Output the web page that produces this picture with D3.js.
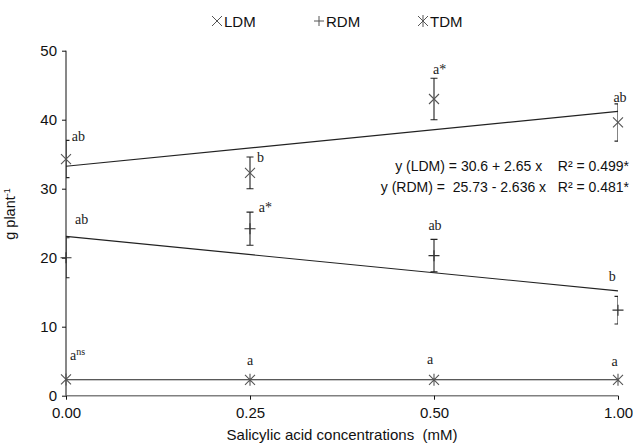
<!DOCTYPE html>
<html><head><meta charset="utf-8">
<script src="https://cdn.jsdelivr.net/npm/d3@7"></script>
<style>
html,body{margin:0;padding:0;background:#fff;}
text{white-space:pre;}
</style></head>
<body>
<script>
// ---- data ----
const categories = ["0.00", "0.25", "0.50", "1.00"];
const yTicks = [0, 10, 20, 30, 40, 50];
const seriesNames = ["LDM", "RDM", "TDM"];
const ldmValues = [34.3, 32.3, 43.0, 39.6];
const ldmErrors = [2.7, 2.3, 3.0, 2.7];
const rdmValues = [20.0, 24.2, 20.3, 12.4];
const rdmErrors = [2.9, 2.4, 2.35, 2.0];
const tdmValues = [2.35, 2.3, 2.3, 2.3];
const ldmLetters = ["ab", "b", "a*", "ab"];
const rdmLetters = ["ab", "a*", "ab", "b"];
const tdmLetters = ["a", "a", "a", "a"];
const ldmFit = [30.6, 2.65];     // intercept, slope (x = 1..4)
const rdmFit = [25.73, -2.636];
const equations = ["y (LDM) = 30.6 + 2.65 x    R\u00B2 = 0.499*",
                   "y (RDM) =  25.73 - 2.636 x   R\u00B2 = 0.481*"];
const xTitle = "Salicylic acid concentrations  (mM)";

// ---- layout (not data) ----
const W = 633, H = 445;
const ldmLabelPos = [[5.7,1,"start"],[7,5,"start"],[-1,-4,"start"],[2,-2,"middle"]];
const rdmLabelPos = [[9,-14,"start"],[8.7,0,"start"],[1,-9,"middle"],[-5.7,-15.6,"middle"]];
const tdmLabelPos = [[4,-19,"start"],[0,-14.5,"middle"],[-4,-15.5,"middle"],[-3.5,-14,"middle"]];

const svg = d3.select("body").append("svg").attr("width", W).attr("height", H);
const x = d3.scalePoint().domain(categories).range([66, 618]);
const y = d3.scaleLinear().domain([0, 50]).range([395.7, 50.7]);

svg.append("defs").append("clipPath").attr("id","plot")
  .append("rect").attr("x",66).attr("y",40).attr("width",552).attr("height",356);

const markerCol = "#555", lineCol = "#222";

// axes
const yAxis = svg.append("g").attr("transform","translate(66,0)")
  .call(d3.axisLeft(y).tickValues(yTicks).tickSize(4).tickPadding(5).tickFormat(d3.format("d")));
yAxis.select(".domain").attr("stroke","#111").attr("d","M0,"+y(50)+"V"+y(0));
yAxis.selectAll(".tick line").attr("stroke","#111");
yAxis.selectAll("text").attr("font-family","Liberation Sans, Arial, sans-serif").attr("font-size",15).attr("fill","#111");

const xAxis = svg.append("g").attr("transform","translate(0,"+y(0)+")")
  .call(d3.axisBottom(x).tickSize(4).tickPadding(8));
xAxis.select(".domain").attr("stroke","#808080").attr("stroke-width",1.5).attr("d","M66,0H618");
xAxis.selectAll(".tick line").attr("stroke","#111");
xAxis.selectAll("text").attr("font-family","Liberation Sans, Arial, sans-serif").attr("font-size",15).attr("fill","#111");

svg.append("text").attr("x",342).attr("y",440).attr("text-anchor","middle")
  .attr("font-family","Liberation Sans, Arial, sans-serif").attr("font-size",15).attr("fill","#111").text(xTitle);

const yt = svg.append("text").attr("transform","translate(15,214) rotate(-90)").attr("text-anchor","middle")
  .attr("font-family","Liberation Sans, Arial, sans-serif").attr("font-size",14.5).attr("fill","#111");
yt.append("tspan").text("g plant");
yt.append("tspan").attr("font-size",9).attr("dy",-5).text("-1");

// trend lines
const idx = [1,2,3,4];
function fitLine(fit){ return idx.map((i,k)=>[x(categories[k]), y(fit[0]+fit[1]*i)]); }
const line = d3.line();
svg.append("path").attr("d", line([fitLine(ldmFit)[0], fitLine(ldmFit)[3]])).attr("stroke",lineCol).attr("fill","none").attr("stroke-width",1.1);
svg.append("path").attr("d", line([fitLine(rdmFit)[0], fitLine(rdmFit)[3]])).attr("stroke",lineCol).attr("fill","none").attr("stroke-width",1.1);
const tdmMean = d3.mean(tdmValues);
svg.append("path").attr("d", line([[x(categories[0]), y(tdmMean)],[x(categories[3]), y(tdmMean)]])).attr("stroke",lineCol).attr("fill","none").attr("stroke-width",1.1);

// error bars
const eb = svg.append("g").attr("clip-path","url(#plot)").attr("stroke","#222").attr("stroke-width",1.1).attr("fill","none");
function errBars(vals, errs){
  vals.forEach((v,k)=>{
    const cx = x(categories[k]), t = y(v+errs[k]), b = y(v-errs[k]);
    eb.append("path").attr("d","M"+cx+","+t+"V"+b+"M"+(cx-3.5)+","+t+"H"+(cx+3.5)+"M"+(cx-3.5)+","+b+"H"+(cx+3.5));
  });
}
errBars(ldmValues, ldmErrors);
errBars(rdmValues, rdmErrors);

// markers
const mk = svg.append("g").attr("stroke",markerCol).attr("stroke-width",1.1).attr("fill","none");
function crossPath(cx,cy,s){ return "M"+(cx-s)+","+(cy-s)+"L"+(cx+s)+","+(cy+s)+"M"+(cx-s)+","+(cy+s)+"L"+(cx+s)+","+(cy-s); }
function plusPath(cx,cy,s){ return "M"+(cx-s)+","+cy+"H"+(cx+s)+"M"+cx+","+(cy-s)+"V"+(cy+s); }
function starPath(cx,cy,s){ return crossPath(cx,cy,s)+"M"+cx+","+(cy-s*1.2)+"V"+(cy+s*1.2); }
ldmValues.forEach((v,k)=> mk.append("path").attr("d", crossPath(x(categories[k]), y(v), 5)));
rdmValues.forEach((v,k)=> mk.append("path").attr("d", plusPath(x(categories[k]), y(v), 5.5)).attr("stroke","#333"));
tdmValues.forEach((v,k)=> mk.append("path").attr("d", starPath(x(categories[k]), y(v), 5)));

// letters
const lab = svg.append("g").attr("font-family","Liberation Serif, Times New Roman, serif").attr("font-size",14).attr("fill","#222");
function letters(vals, errs, lets, pos){
  vals.forEach((v,k)=>{
    const top = y(v + (errs ? errs[k] : 0));
    lab.append("text").attr("x", x(categories[k]) + pos[k][0]).attr("y", top + pos[k][1])
      .attr("text-anchor", pos[k][2]).text(lets[k]);
  });
}
letters(ldmValues, ldmErrors, ldmLetters, ldmLabelPos);
letters(rdmValues, rdmErrors, rdmLetters, rdmLabelPos);
letters(tdmValues, null, tdmLetters, tdmLabelPos);
// superscript "ns" on first TDM letter
const firstT = lab.selectAll("text").filter((d,i,n)=>i===8);
firstT.append("tspan").attr("font-size",10).attr("dy",-5).text("ns");

// equations
const eq = svg.append("g").attr("font-family","Liberation Sans, Arial, sans-serif").attr("font-size",14).attr("fill","#111").attr("text-anchor","end");
equations.forEach((e,i)=> eq.append("text").attr("x",629).attr("y",171 + i*21).text(e));

// legend
const lg = svg.append("g");
const legX = [217, 319, 423];
const legFns = [crossPath, plusPath, starPath];
seriesNames.forEach((n,i)=>{
  lg.append("path").attr("d", legFns[i](legX[i], 21, 5)).attr("stroke", markerCol).attr("stroke-width",1).attr("fill","none");
  lg.append("text").attr("x", legX[i]+7).attr("y", 26.5).attr("font-family","Liberation Sans, Arial, sans-serif")
    .attr("font-size",15).attr("fill","#111").text(n);
});
</script>
</body></html>
